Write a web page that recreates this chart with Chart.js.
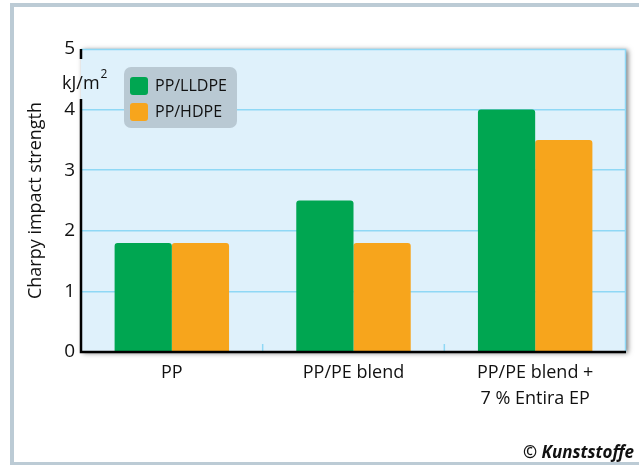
<!DOCTYPE html>
<html>
<head>
<meta charset="utf-8">
<script src="https://cdn.jsdelivr.net/npm/chart.js@4"></script>
<style>
  html, body { margin: 0; padding: 0; background: #fff; }
  #wrap { width: 639px; height: 465px; }
</style>
</head>
<body>
<div id="wrap"><canvas id="grafico" width="639" height="465"></canvas></div>
<script>
// datos del gráfico
const categorias = ["PP", "PP/PE blend", ["PP/PE blend +", "7 % Entira EP"]];
const serieLLDPE = [1.8, 2.5, 4.0];
const serieHDPE = [1.8, 1.8, 3.5];
const nombresSeries = ["PP/LLDPE", "PP/HDPE"];
const ticksY = [0, 1, 2, 3, 4, 5];

const verde = "#00a651";
const naranja = "#f7a51c";
const fuente = "'Open Sans', 'Noto Sans', sans-serif";

// fondo, marco exterior y sombra del área del gráfico
const fondoPlugin = {
  id: "fondo",
  beforeDraw(chart) {
    const ctx = chart.ctx;
    const a = chart.chartArea;
    ctx.save();
    ctx.fillStyle = "#ffffff";
    ctx.fillRect(0, 0, chart.width, chart.height);
    ctx.strokeStyle = "#bccbd5";
    ctx.lineWidth = 4;
    ctx.strokeRect(12, 5, chart.width + 10, chart.height - 6);
    ctx.shadowColor = "rgba(0,0,0,0.55)";
    ctx.shadowBlur = 5;
    ctx.shadowOffsetX = 2;
    ctx.shadowOffsetY = 1;
    ctx.fillStyle = "#dff1fb";
    ctx.fillRect(a.left, a.top, a.right - a.left, a.bottom - a.top);
    ctx.restore();
  }
};

// ejes, marcas, leyenda y textos extra
const extrasPlugin = {
  id: "extras",
  afterDraw(chart) {
    const ctx = chart.ctx;
    const a = chart.chartArea;
    const x = chart.scales.x;
    ctx.save();
    // borde superior y derecho
    ctx.strokeStyle = "#8fd8f5";
    ctx.lineWidth = 1.5;
    ctx.beginPath();
    ctx.moveTo(a.left, a.top + 0.5);
    ctx.lineTo(a.right - 0.5, a.top + 0.5);
    ctx.lineTo(a.right - 0.5, a.bottom);
    ctx.stroke();
    // marcas pequeñas entre categorías
    for (let i = 0; i < categorias.length - 1; i++) {
      const px = (x.getPixelForValue(i) + x.getPixelForValue(i + 1)) / 2;
      ctx.beginPath();
      ctx.moveTo(px, a.bottom - 8);
      ctx.lineTo(px, a.bottom);
      ctx.stroke();
    }
    // ejes negros (con hueco para la unidad)
    ctx.strokeStyle = "#000";
    ctx.lineWidth = 2.5;
    ctx.beginPath();
    ctx.moveTo(a.left, a.top);
    ctx.lineTo(a.left, a.top + 10);
    ctx.moveTo(a.left, a.top + 50);
    ctx.lineTo(a.left, a.bottom);
    ctx.lineTo(a.right, a.bottom);
    ctx.stroke();
    // unidad
    ctx.fillStyle = "#111";
    ctx.font = "18px " + fuente;
    ctx.textBaseline = "alphabetic";
    ctx.textAlign = "left";
    ctx.fillText("kJ/m", 62, 89);
    const w = ctx.measureText("kJ/m").width;
    ctx.font = "12px " + fuente;
    ctx.fillText("2", 62 + w + 1, 78);
    // leyenda
    ctx.fillStyle = "#b9c9d3";
    ctx.beginPath();
    ctx.roundRect(124, 67, 113, 61, 7);
    ctx.fill();
    const colores = [verde, naranja];
    ctx.font = "16px " + fuente;
    ctx.textBaseline = "middle";
    chart.data.datasets.forEach((ds, i) => {
      const y = 77 + i * 26;
      ctx.fillStyle = colores[i];
      ctx.beginPath();
      ctx.roundRect(130, y, 18, 18, 3);
      ctx.fill();
      ctx.fillStyle = "#111";
      ctx.fillText(ds.label, 155, y + 9);
    });
    // copyright
    ctx.font = "italic bold 17px " + fuente;
    ctx.textAlign = "right";
    ctx.textBaseline = "alphabetic";
    ctx.fillText("© Kunststoffe", 634, 458);
    ctx.restore();
  }
};

new Chart(document.getElementById("grafico"), {
  type: "bar",
  data: {
    labels: categorias,
    datasets: [
      { label: nombresSeries[0], data: serieLLDPE, backgroundColor: verde },
      { label: nombresSeries[1], data: serieHDPE, backgroundColor: naranja }
    ]
  },
  options: {
    responsive: false,
    animation: false,
    layout: { padding: { left: 0, right: 13, top: 49, bottom: 0 } },
    datasets: {
      bar: {
        categoryPercentage: 0.63,
        barPercentage: 1,
        borderRadius: { topLeft: 3, topRight: 3 },
        borderSkipped: "bottom"
      }
    },
    plugins: {
      legend: { display: false },
      tooltip: { enabled: false }
    },
    scales: {
      x: {
        grid: { display: false },
        border: { display: false },
        ticks: {
          color: "#111",
          font: { family: fuente, size: 18, lineHeight: 1.45 },
          padding: 0,
          maxRotation: 0
        },
        afterFit(scale) { scale.height = 113; }
      },
      y: {
        min: 0,
        max: 5,
        afterBuildTicks(scale) { scale.ticks = ticksY.map(v => ({ value: v })); },
        grid: {
          color: ctx => (ctx.tick.value === 0 || ctx.tick.value === 5) ? "rgba(0,0,0,0)" : "#8fd8f5",
          lineWidth: 1.5,
          drawTicks: false
        },
        border: { display: false },
        ticks: {
          color: "#111",
          font: { family: fuente, size: 19 },
          padding: 6
        },
        title: {
          display: true,
          text: "Charpy impact strength",
          color: "#111",
          font: { family: fuente, size: 18 },
          padding: { top: 25, bottom: 0 }
        },
        afterFit(scale) { scale.width = 81; }
      }
    }
  },
  plugins: [fondoPlugin, extrasPlugin]
});
</script>
</body>
</html>
